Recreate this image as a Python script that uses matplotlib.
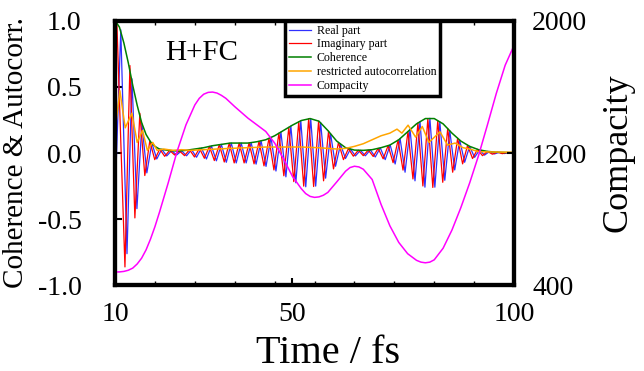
import matplotlib
matplotlib.use("Agg")
import matplotlib.pyplot as plt
from matplotlib.ticker import FixedLocator

plt.rcParams['font.family'] = ['Liberation Serif', 'DejaVu Serif']

# ---------------- data ----------------
# Real part: extremum points (time fs, value)
real_t = [10.0, 11.3, 12.70, 13.82, 14.94, 16.06, 17.18, 18.30, 19.42, 20.54, 21.66, 22.78,
          23.90, 25.02, 26.14, 27.26, 28.38, 29.50, 30.62, 31.74, 32.86, 33.98, 35.10,
          36.22, 37.34, 38.46, 39.58, 40.70, 41.82, 42.94, 44.06, 45.18, 46.30, 47.42,
          48.54, 49.66, 50.78, 51.90, 53.02, 54.14, 55.26, 56.38, 57.50, 58.62, 59.74,
          60.86, 61.98, 63.10, 64.22, 65.34, 66.46, 67.58, 68.70, 69.82, 70.94, 72.06,
          73.18, 74.30, 75.42, 76.54, 77.66, 78.78, 79.90, 81.02, 82.14, 83.26, 84.38,
          85.50, 86.62, 87.74, 88.86, 89.98, 91.10, 92.22, 93.34, 94.46, 95.58, 96.70,
          97.82, 98.94, 100.0]
real_v = [-0.35, 0.93, -0.76, 0.56, -0.42, 0.22, -0.15, 0.075, -0.045, 0.028, -0.022, 0.018,
          -0.015, 0.017, -0.021, 0.026, -0.032, 0.037, -0.045, 0.053, -0.059, 0.065, -0.07,
          0.075, -0.075, 0.075, -0.075, 0.078, -0.084, 0.092, -0.101, 0.118, -0.136, 0.158,
          -0.18, 0.203, -0.225, 0.243, -0.255, 0.259, -0.25, 0.23, -0.19, 0.145, -0.10,
          0.065, -0.042, 0.03, -0.022, 0.02, -0.021, 0.024, -0.03, 0.039, -0.05, 0.061,
          -0.083, 0.108, -0.145, 0.178, -0.21, 0.238, -0.258, 0.262, -0.258, 0.235, -0.206,
          0.168, -0.128, 0.097, -0.07, 0.05, -0.033, 0.023, -0.016, 0.011, -0.007, 0.005,
          -0.004, 0.003, 0.0]

# Imaginary part: extremum points
imag_t = [10.0, 10.4, 12.24, 13.36, 14.48, 15.60, 16.72, 17.84, 18.96, 20.08, 21.20, 22.32,
          23.44, 24.56, 25.68, 26.80, 27.92, 29.04, 30.16, 31.28, 32.40, 33.52, 34.64,
          35.76, 36.88, 38.00, 39.12, 40.24, 41.36, 42.48, 43.60, 44.72, 45.84, 46.96,
          48.08, 49.20, 50.32, 51.44, 52.56, 53.68, 54.80, 55.92, 57.04, 58.16, 59.28,
          60.40, 61.52, 62.64, 63.76, 64.88, 66.00, 67.12, 68.24, 69.36, 70.48, 71.60,
          72.72, 73.84, 74.96, 76.08, 77.20, 78.32, 79.44, 80.56, 81.68, 82.80, 83.92,
          85.04, 86.16, 87.28, 88.40, 89.52, 90.64, 91.76, 92.88, 94.00, 95.12, 96.24,
          97.36, 98.48, 99.60]
imag_v = [0.97, 1.0, -0.86, 0.66, -0.49, 0.30, -0.17, 0.09, -0.05, 0.03, -0.025, 0.02,
          -0.015, 0.015, -0.02, 0.025, -0.03, 0.035, -0.04, 0.05, -0.057, 0.063, -0.068,
          0.074, -0.075, 0.075, -0.075, 0.076, -0.082, 0.088, -0.097, 0.11, -0.128, 0.15,
          -0.172, 0.194, -0.216, 0.236, -0.25, 0.26, -0.253, 0.241, -0.21, 0.165, -0.12,
          0.08, -0.05, 0.033, -0.024, 0.021, -0.02, 0.022, -0.026, 0.035, -0.044, 0.056,
          -0.073, 0.097, -0.129, 0.162, -0.196, 0.227, -0.249, 0.26, -0.26, 0.244, -0.221,
          0.186, -0.145, 0.111, -0.082, 0.058, -0.042, 0.028, -0.02, 0.012, -0.009, 0.006,
          -0.005, 0.004, -0.003]

# Coherence
coh_t = [10, 11, 12, 13, 14, 15, 16, 17, 18, 19, 20, 22, 24, 26, 28, 30, 32, 34, 36, 38,
         40, 42, 44, 46, 48, 50, 52, 54, 56, 58, 60, 62, 64, 66, 68, 70, 72, 74, 76, 78,
         80, 82, 84, 86, 88, 90, 92, 94, 96, 98, 100]
coh_v = [1.0, 0.95, 0.83, 0.68, 0.51, 0.36, 0.23, 0.14, 0.085, 0.05, 0.03, 0.02, 0.015,
         0.02, 0.03, 0.04, 0.055, 0.065, 0.075, 0.075, 0.075, 0.085, 0.1, 0.13, 0.17, 0.21,
         0.245, 0.26, 0.24, 0.17, 0.09, 0.04, 0.022, 0.02, 0.025, 0.04, 0.06, 0.1, 0.16,
         0.22, 0.26, 0.26, 0.22, 0.15, 0.09, 0.05, 0.025, 0.012, 0.006, 0.004, 0.003]

# Restricted autocorrelation
rac_t = [10, 11.1, 12.3, 13.8, 15.0, 16.2, 17.3, 18.5, 19.5, 21, 23, 25, 27, 30, 33, 36,
         40, 44, 48, 52, 56, 60, 62, 64, 66, 68, 70, 72, 73.6, 74.7, 76.1, 77.8, 79.3,
         80.8, 83.3, 85.0, 86.7, 88.5, 90, 92, 95, 100]
rac_v = [0.17, 0.47, 0.19, 0.3, 0.08, 0.17, 0.02, 0.08, 0.02, 0.03, 0.02, 0.025, 0.02,
         0.025, 0.03, 0.035, 0.04, 0.045, 0.045, 0.045, 0.04, 0.03, 0.035, 0.05, 0.07,
         0.1, 0.13, 0.15, 0.18, 0.15, 0.21, 0.12, 0.2, 0.08, 0.16, 0.06, 0.075, 0.04,
         0.03, 0.01, 0.008, 0.005]

# Compacity (right axis)
comp_t = [10, 11, 12, 13, 14, 15, 16, 17, 18, 19, 20, 22, 24, 26, 28, 29, 30, 31, 32, 33,
          34, 35, 37, 40, 42, 44, 46, 48, 50, 52, 53, 54, 55, 56, 57, 58, 60, 62, 63, 64,
          65, 66, 68, 70, 72, 74, 76, 78, 79, 80, 81, 82, 84, 86, 88, 90, 92, 94, 96, 98, 100]
comp_v = [481, 482, 485, 492, 505, 530, 565, 615, 680, 755, 840, 1020, 1210, 1370, 1490,
          1530, 1555, 1566, 1568, 1562, 1548, 1530, 1480, 1410, 1370, 1330, 1260, 1165,
          1060, 985, 955, 938, 932, 935, 945, 962, 1025, 1090, 1112, 1120, 1116, 1102,
          1040, 890, 760, 660, 592, 552, 541, 537, 541, 555, 625, 735, 870, 1020, 1185,
          1370, 1560, 1730, 1850]

x_major = [10, 50, 100]
x_minor = [19, 28, 37, 46, 55, 64, 73, 82, 91]
y_left_ticks = [-1.0, -0.5, 0.0, 0.5, 1.0]
y_right_ticks = [400, 1200, 2000]

# ---------------- figure ----------------
fig = plt.figure(figsize=(6.44, 3.71), dpi=100)
ax = fig.add_axes([0.1786, 0.2305, 0.6196, 0.7142])
ax2 = ax.twinx()

lw = 0.9
h1, = ax.plot(real_t, real_v, color='#3030ff', lw=lw, label='Real part')
h2, = ax.plot(imag_t, imag_v, color='#ff0000', lw=lw, label='Imaginary part')
h3, = ax.plot(coh_t, coh_v, color='#008000', lw=1.1, label='Coherence')
h4, = ax.plot(rac_t, rac_v, color='#ffa500', lw=1.1, label='restricted autocorrelation')
h5, = ax2.plot(comp_t, comp_v, color='#ff00ff', lw=1.1, label='Compacity')

ax.set_xlim(10, 100)
ax.set_ylim(-1.0, 1.0)
ax2.set_ylim(400, 2000)

ax.xaxis.set_major_locator(FixedLocator(x_major))
ax.xaxis.set_minor_locator(FixedLocator(x_minor))
ax.set_xticklabels([str(v) for v in x_major])
ax.set_yticks(y_left_ticks)
ax.set_yticklabels(['%.1f' % v for v in y_left_ticks])
ax2.set_yticks(y_right_ticks)
ax2.set_yticklabels([str(v) for v in y_right_ticks])

ax.tick_params(axis='x', which='major', direction='in', length=5, width=1.5,
               labelsize=20, pad=12, top=True)
ax.tick_params(axis='x', which='minor', direction='in', length=3, width=1,
               top=True)
ax.tick_params(axis='y', which='major', direction='in', length=5, width=1.5,
               labelsize=20, pad=24)
ax2.tick_params(axis='y', which='major', direction='in', length=5, width=1.5,
                labelsize=20, pad=13)

for a in (ax, ax2):
    for s in a.spines.values():
        s.set_linewidth(3)

ax.set_xlabel('Time / fs', fontsize=29)
ax.xaxis.set_label_coords(0.534, -0.185)
ax.set_ylabel('Coherence & Autocorr.', fontsize=21, labelpad=6)
ax2.set_ylabel('Compacity', fontsize=26, labelpad=10)

ax.text(0.125, 0.85, 'H+FC', transform=ax.transAxes, fontsize=21)

leg = ax2.legend(handles=[h1, h2, h3, h4, h5], loc='upper left',
                 bbox_to_anchor=(0.426, 1.0), fontsize=8.6, frameon=True,
                 fancybox=False, framealpha=1, edgecolor='black',
                 handlelength=1.8, handletextpad=0.5, labelspacing=0.15,
                 borderpad=0.35, borderaxespad=0)
leg.get_frame().set_linewidth(2.5)

fig.savefig('out.png', dpi=100)
